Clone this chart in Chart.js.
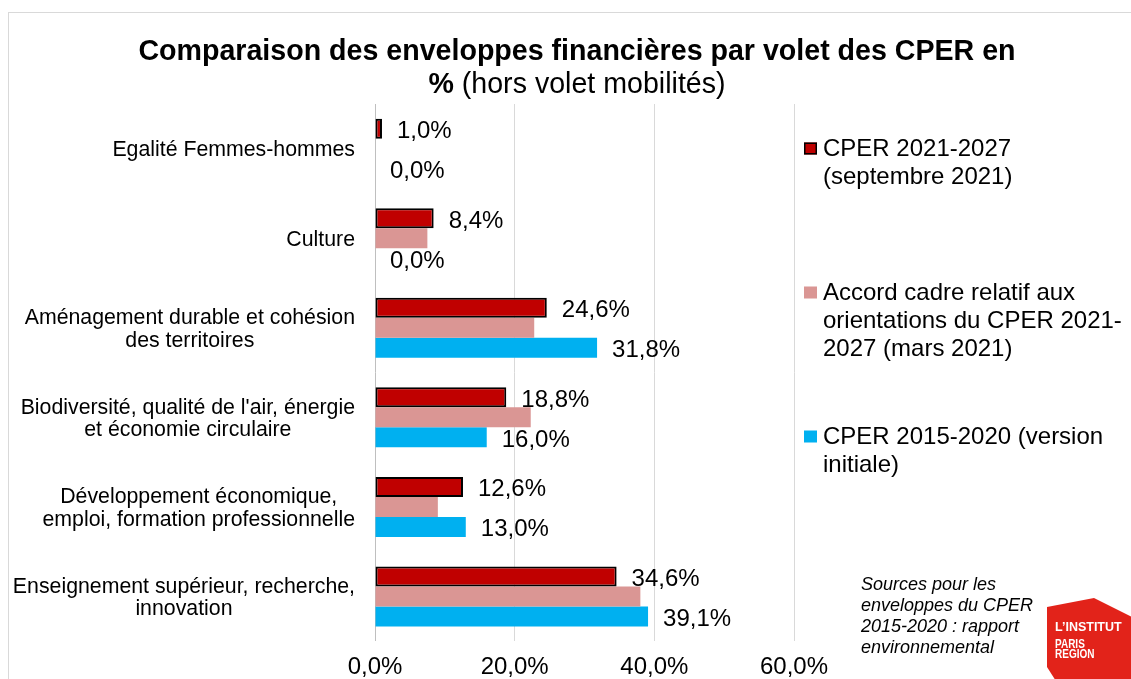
<!DOCTYPE html>
<html>
<head>
<meta charset="utf-8">
<script src="https://cdn.jsdelivr.net/npm/chart.js@4.4.1/dist/chart.umd.min.js"></script>
<style>
  html, body { margin: 0; padding: 0; background: #fff; overflow: hidden; }
  #wrap { position: relative; width: 1131px; height: 700px; }
</style>
</head>
<body>
<div id="wrap"><canvas id="chart"></canvas></div>
<script>
// Themes (multi-line labels), one entry per row of bars
const categories = [
  ["Egalité Femmes-hommes"],
  ["Culture"],
  ["Aménagement durable et cohésion", "des territoires"],
  ["Biodiversité, qualité de l'air, énergie", "et économie circulaire"],
  ["Développement économique,", "emploi, formation professionnelle"],
  ["Enseignement supérieur, recherche,", "innovation"]
];

// Series names as they wrap in the legend
const seriesNames = [
  ["CPER 2021-2027", "(septembre 2021)"],
  ["Accord cadre relatif aux", "orientations du CPER 2021-", "2027 (mars 2021)"],
  ["CPER 2015-2020 (version", "initiale)"]
];

// Share of each theme in the envelope, in %
const cperSept2021 = [1.0, 8.4, 24.6, 18.8, 12.6, 34.6];
const accordMars2021 = [0.0, 7.5, 22.8, 22.3, 9.0, 38.0];
const cper2015 = [0.0, 0.0, 31.8, 16.0, 13.0, 39.1];

// Value axis ticks, in %
const xTicks = [0, 20, 40, 60];

const titleMain = "Comparaison des enveloppes financières par volet des CPER en";
const titleSubBold = "%";
const titleSubRest = " (hors volet mobilités)";
const sourceLines = ["Sources pour les", "enveloppes du CPER", "2015-2020 : rapport", "environnemental"];
const logoLines = ["L\u2019INSTITUT", "PARIS", "REGION"];

const FONT = '"Liberation Sans", Arial, Helvetica, sans-serif';
const fmt = v => Number(v).toFixed(1).replace('.', ',') + '%';

const decorPlugin = {
  id: 'decor',
  beforeDraw(chart) {
    const ctx = chart.ctx;
    ctx.save();
    ctx.fillStyle = '#ffffff';
    ctx.fillRect(0, 0, chart.width, chart.height);
    ctx.strokeStyle = '#d9d9d9';
    ctx.lineWidth = 1;
    ctx.strokeRect(8.5, 12.5, chart.width + 40, chart.height + 40);
    ctx.restore();
  },
  afterDatasetsDraw(chart) {
    // value labels to the right of the bars
    const ctx = chart.ctx;
    ctx.save();
    ctx.font = `24px ${FONT}`;
    ctx.fillStyle = '#000';
    ctx.textAlign = 'left';
    ctx.textBaseline = 'alphabetic';
    chart.data.datasets.forEach((ds, i) => {
      if (!ds.showValues) return;
      const meta = chart.getDatasetMeta(i);
      meta.data.forEach((bar, j) => {
        ctx.fillText(fmt(ds.data[j]), bar.x + 15, bar.y + 9.5);
      });
    });
    ctx.restore();
  },
  afterDraw(chart) {
    const ctx = chart.ctx;
    ctx.save();
    ctx.fillStyle = '#000';

    // title
    const cx = 577;
    ctx.textAlign = 'center';
    ctx.textBaseline = 'alphabetic';
    ctx.font = `bold 28.6px ${FONT}`;
    ctx.fillText(titleMain, cx, 60);
    const wb = ctx.measureText(titleSubBold).width;
    ctx.font = `28.6px ${FONT}`;
    const wr = ctx.measureText(titleSubRest).width;
    const sx = cx - (wb + wr) / 2;
    ctx.textAlign = 'left';
    ctx.font = `bold 28.6px ${FONT}`;
    ctx.fillText(titleSubBold, sx, 93);
    ctx.font = `28.6px ${FONT}`;
    ctx.fillText(titleSubRest, sx + wb, 93);

    // category labels, centred block right-aligned to the axis
    const yScale = chart.scales.y;
    const catSize = 21.3, catLH = 22.5;
    ctx.font = `${catSize}px ${FONT}`;
    ctx.textAlign = 'center';
    chart.data.labels.forEach((lines, i) => {
      const yc = yScale.getPixelForValue(i);
      const maxW = Math.max(...lines.map(l => ctx.measureText(l).width));
      const x = chart.chartArea.left - 20 - maxW / 2;
      const y0 = yc + catSize * 0.358 - (lines.length - 1) * catLH / 2;
      lines.forEach((l, k) => ctx.fillText(l, x, y0 + k * catLH));
    });

    // legend
    ctx.textAlign = 'left';
    ctx.font = `24px ${FONT}`;
    const legX = 804, legTextX = 823, legStep = 144, legLH = 28;
    chart.data.datasets.forEach((ds, i) => {
      const base = 155.5 + i * legStep;
      ctx.fillStyle = ds.backgroundColor;
      ctx.fillRect(legX, base - 13, 13, 12);
      if (ds.borderWidth) {
        ctx.strokeStyle = ds.borderColor;
        ctx.lineWidth = 1.5;
        ctx.strokeRect(legX + 0.75, base - 12.25, 11.5, 10.5);
      }
      ctx.fillStyle = '#000';
      seriesNames[i].forEach((l, k) => ctx.fillText(l, legTextX, base + k * legLH));
    });

    // source note
    ctx.font = `italic 18px ${FONT}`;
    sourceLines.forEach((l, k) => ctx.fillText(l, 861, 589.5 + k * 21.2));

    // logo
    ctx.fillStyle = '#e2231a';
    ctx.beginPath();
    ctx.moveTo(1047, 607);
    ctx.lineTo(1094, 598);
    ctx.lineTo(1140, 621);
    ctx.lineTo(1140, 700);
    ctx.lineTo(1068, 700);
    ctx.lineTo(1047, 667);
    ctx.closePath();
    ctx.fill();
    ctx.fillStyle = '#fff';
    ctx.font = `bold 12.5px ${FONT}`;
    ctx.fillText(logoLines[0], 1055, 631);
    ctx.save();
    ctx.translate(1055, 0);
    ctx.scale(0.8, 1);
    ctx.font = `bold 12.5px ${FONT}`;
    ctx.fillText(logoLines[1], 0, 647.5);
    ctx.fillText(logoLines[2], 0, 657.5);
    ctx.restore();

    ctx.restore();
  }
};

new Chart(document.getElementById('chart'), {
  type: 'bar',
  data: {
    labels: categories,
    datasets: [
      {
        label: seriesNames[0].join(' '),
        data: cperSept2021,
        backgroundColor: '#c00000',
        borderColor: '#000000',
        borderWidth: 2,
        borderSkipped: false,
        showValues: true
      },
      {
        label: seriesNames[1].join(' '),
        data: accordMars2021,
        backgroundColor: '#da9694',
        borderWidth: 0
      },
      {
        label: seriesNames[2].join(' '),
        data: cper2015,
        backgroundColor: '#00b0f0',
        borderWidth: 0,
        showValues: true
      }
    ]
  },
  options: {
    indexAxis: 'y',
    responsive: true,
    maintainAspectRatio: false,
    animation: false,
    layout: { padding: { left: 375, right: 337, top: 104, bottom: 6 } },
    datasets: { bar: { categoryPercentage: 0.67, barPercentage: 1.0 } },
    plugins: {
      legend: { display: false },
      title: { display: false },
      tooltip: { enabled: false }
    },
    scales: {
      x: {
        min: 0,
        max: 60,
        afterBuildTicks: s => { s.ticks = xTicks.map(v => ({ value: v })); },
        ticks: {
          callback: v => fmt(v),
          font: { family: FONT, size: 24 },
          color: '#000',
          padding: 12,
          maxRotation: 0
        },
        grid: {
          color: c => (c.tick && c.tick.value === 0) ? '#bfbfbf' : '#d9d9d9',
          lineWidth: 1,
          drawTicks: false
        },
        border: { display: false }
      },
      y: { display: false }
    }
  },
  plugins: [decorPlugin]
});
</script>
</body>
</html>
